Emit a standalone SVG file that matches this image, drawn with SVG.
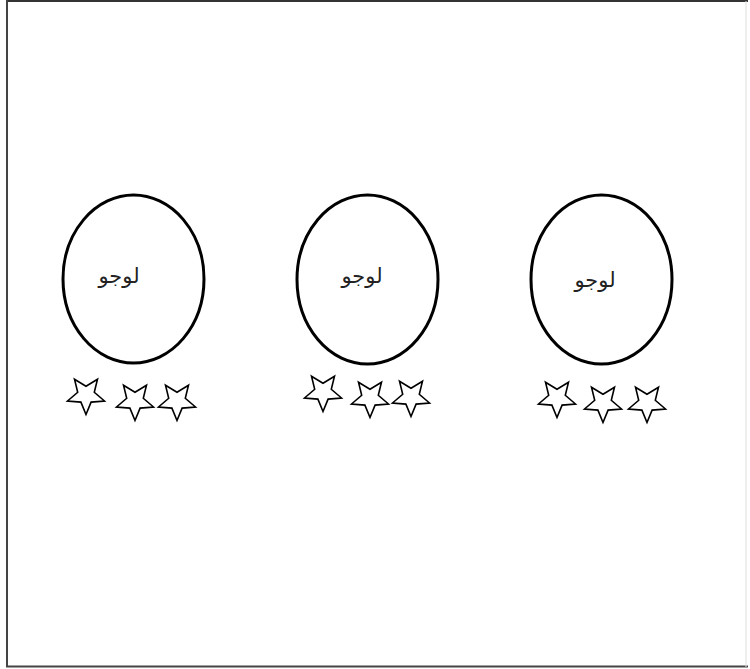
<svg xmlns="http://www.w3.org/2000/svg" xmlns:xlink="http://www.w3.org/1999/xlink" width="750" height="669" viewBox="0 0 750 669">
<style>
.logo{fill:#fff;stroke:#000;stroke-width:3}
.lbl{font-family:"DejaVu Sans",sans-serif;font-size:21px;fill:#222;text-anchor:middle}
.star{fill:#fff;stroke:#000;stroke-width:1.6;stroke-linejoin:miter}
</style>
<defs>
<path id="star" d="M0,19.5 L-5.1,7.1 L-18.5,6 L-8.3,-2.7 L-11.5,-15.8 L0,-8.8 L11.5,-15.8 L8.3,-2.7 L18.5,6 L5.1,7.1 Z"/>
</defs>
<rect x="0" y="0" width="750" height="669" fill="#fff"/>
<g id="frame" fill="none">
<line x1="7" y1="1" x2="748" y2="1" stroke="#333" stroke-width="2"/>
<line x1="7" y1="0" x2="7" y2="667" stroke="#444" stroke-width="2"/>
<line x1="6" y1="666.5" x2="748" y2="666.5" stroke="#444" stroke-width="2"/>
<line x1="746" y1="1" x2="746" y2="667" stroke="#ddd" stroke-width="1"/>
</g>
<g id="node1">
<ellipse class="logo" cx="133.5" cy="279" rx="70.5" ry="84"/>
<text class="lbl" x="119" y="283" direction="rtl">لوجو</text>
<use class="star" xlink:href="#star" href="#star" transform="translate(86,395)"/>
<use class="star" xlink:href="#star" href="#star" transform="translate(135,401)"/>
<use class="star" xlink:href="#star" href="#star" transform="translate(177,401)"/>
</g>
<g id="node2">
<ellipse class="logo" cx="367.5" cy="279.5" rx="70.5" ry="84.5"/>
<text class="lbl" x="362" y="283" direction="rtl">لوجو</text>
<use class="star" xlink:href="#star" href="#star" transform="translate(323,392)"/>
<use class="star" xlink:href="#star" href="#star" transform="translate(370,398)"/>
<use class="star" xlink:href="#star" href="#star" transform="translate(411,397)"/>
</g>
<g id="node3">
<ellipse class="logo" cx="601.5" cy="279.5" rx="70.5" ry="84.5"/>
<text class="lbl" x="595" y="287" direction="rtl">لوجو</text>
<use class="star" xlink:href="#star" href="#star" transform="translate(557,398)"/>
<use class="star" xlink:href="#star" href="#star" transform="translate(603,403)"/>
<use class="star" xlink:href="#star" href="#star" transform="translate(647,403)"/>
</g>
<g id="connectors"/>
</svg>
